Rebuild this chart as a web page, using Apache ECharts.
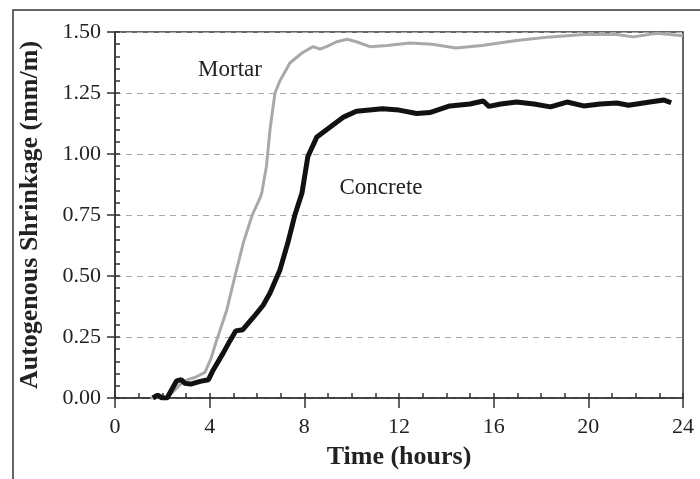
<!DOCTYPE html>
<html>
<head>
<meta charset="utf-8">
<script src="https://cdn.jsdelivr.net/npm/echarts@6/dist/echarts.min.js"></script>
<style>
html,body{margin:0;padding:0;background:#fff;}
#chart{width:700px;height:479px;}
</style>
</head>
<body>
<div id="chart"></div>
<script>
// Time (hours) and autogenous shrinkage (mm/m)
const mortarTime = [1.5, 2.2, 2.5, 2.8, 3.04, 3.4, 3.8, 4.05, 4.3, 4.72, 5.07, 5.42, 5.8, 6.13, 6.2, 6.4, 6.55, 6.76, 6.97, 7.39, 7.9, 8.37, 8.66, 8.94, 9.37, 9.8, 10.2, 10.77, 11.5, 12.46, 13.4, 14.4, 15.5, 16.97, 18.4, 19.8, 21.2, 21.9, 22.9, 24.0];
const mortarValue = [0.0, 0.0, 0.03, 0.06, 0.074, 0.085, 0.105, 0.16, 0.238, 0.36, 0.5, 0.635, 0.75, 0.82, 0.84, 0.95, 1.1, 1.25, 1.3, 1.373, 1.414, 1.44, 1.43, 1.44, 1.46, 1.47, 1.46, 1.44, 1.445, 1.455, 1.45, 1.434, 1.445, 1.465, 1.48, 1.49, 1.49, 1.48, 1.495, 1.485];

const concreteTime = [1.6, 1.8, 2.0, 2.2, 2.4, 2.6, 2.8, 2.95, 3.2, 3.6, 3.95, 4.15, 4.57, 4.86, 5.1, 5.4, 5.84, 6.26, 6.55, 6.97, 7.3, 7.6, 7.9, 8.15, 8.53, 9.08, 9.63, 10.2, 11.3, 12.0, 12.75, 13.3, 14.15, 15.0, 15.56, 15.8, 16.3, 16.97, 17.7, 18.4, 19.1, 19.8, 20.5, 21.2, 21.7, 22.6, 23.2, 23.5];
const concreteValue = [0.0, 0.012, 0.0, 0.0, 0.035, 0.07, 0.075, 0.06, 0.057, 0.068, 0.075, 0.115, 0.184, 0.235, 0.275, 0.28, 0.33, 0.38, 0.43, 0.525, 0.635, 0.75, 0.84, 0.99, 1.07, 1.11, 1.15, 1.175, 1.185, 1.18, 1.166, 1.17, 1.197, 1.205, 1.217, 1.195, 1.205, 1.213, 1.205, 1.193, 1.213, 1.197, 1.205, 1.209, 1.2, 1.213, 1.221, 1.21];

const xMin = 0, xMax = 24, xMajor = 4, xMinor = 1;
const yMin = 0, yMax = 1.5, yMajor = 0.25, yMinor = 0.05;
const xTitle = 'Time (hours)';
const yTitle = 'Autogenous Shrinkage (mm/m)';
const mortarLabel = 'Mortar';
const concreteLabel = 'Concrete';

const serif = "'Liberation Serif', 'Times New Roman', serif";
const pair = (xs, ys) => xs.map((x, i) => [x, ys[i]]);

const chart = echarts.init(document.getElementById('chart'), null, {renderer: 'canvas'});
chart.setOption({
  animation: false,
  backgroundColor: '#fff',
  grid: {left: 115, top: 32, right: 17, bottom: 81, show: true, borderColor: '#333', borderWidth: 1.5, backgroundColor: 'transparent'},
  xAxis: [{
    type: 'value', min: xMin, max: xMax, interval: xMajor, position: 'bottom',
    name: xTitle, nameLocation: 'middle', nameGap: 46,
    nameTextStyle: {fontFamily: serif, fontSize: 26, fontWeight: 'bold', color: '#222'},
    axisLine: {show: true, onZero: false, lineStyle: {color: '#333', width: 1.5}},
    axisTick: {show: true, inside: false, length: 10, lineStyle: {color: '#333', width: 1.5}},
    axisLabel: {fontFamily: serif, fontSize: 22, color: '#222', margin: 18},
    splitLine: {show: false}
  }, {
    type: 'value', min: xMin, max: xMax, interval: xMinor, position: 'bottom',
    axisLine: {show: false, onZero: false},
    axisTick: {show: true, inside: true, length: 5, lineStyle: {color: '#333', width: 1.5}},
    axisLabel: {show: false}, splitLine: {show: false}
  }],
  yAxis: [{
    type: 'value', min: yMin, max: yMax, interval: yMajor, position: 'left',
    name: yTitle, nameLocation: 'middle', nameGap: 72,
    nameTextStyle: {fontFamily: serif, fontSize: 26, fontWeight: 'bold', color: '#222'},
    axisLine: {show: true, onZero: false, lineStyle: {color: '#333', width: 1.5}},
    axisTick: {show: true, inside: false, length: 8, lineStyle: {color: '#333', width: 1.5}},
    axisLabel: {fontFamily: serif, fontSize: 22, color: '#222', margin: 14, formatter: v => v.toFixed(2)},
    splitLine: {show: true, lineStyle: {color: '#aaa', width: 1.2, type: [6, 5]}}
  }, {
    type: 'value', min: yMin, max: yMax, interval: yMinor, position: 'left',
    axisLine: {show: false, onZero: false},
    axisTick: {show: true, inside: true, length: 5, lineStyle: {color: '#333', width: 1.5}},
    axisLabel: {show: false}, splitLine: {show: false}
  }],
  series: [{
    name: mortarLabel, type: 'line', xAxisIndex: 0, yAxisIndex: 0,
    data: pair(mortarTime, mortarValue), showSymbol: false, symbol: 'none',
    lineStyle: {color: '#a9a9a9', width: 3}, z: 3
  }, {
    name: concreteLabel, type: 'line', xAxisIndex: 0, yAxisIndex: 0,
    data: pair(concreteTime, concreteValue), showSymbol: false, symbol: 'none',
    lineStyle: {color: '#111', width: 5}, z: 4
  }],
  graphic: [{
    type: 'rect', silent: true, z: 100,
    shape: {x: 13, y: 10, width: 760, height: 520},
    style: {fill: 'none', stroke: '#333', lineWidth: 1.5}
  }, {
    type: 'text', x: 230, y: 70, z: 100,
    style: {text: mortarLabel, font: '23px ' + serif, fill: '#222', textAlign: 'center', textVerticalAlign: 'middle'}
  }, {
    type: 'text', x: 381, y: 188, z: 100,
    style: {text: concreteLabel, font: '23px ' + serif, fill: '#222', textAlign: 'center', textVerticalAlign: 'middle'}
  }]
});
</script>
</body>
</html>
